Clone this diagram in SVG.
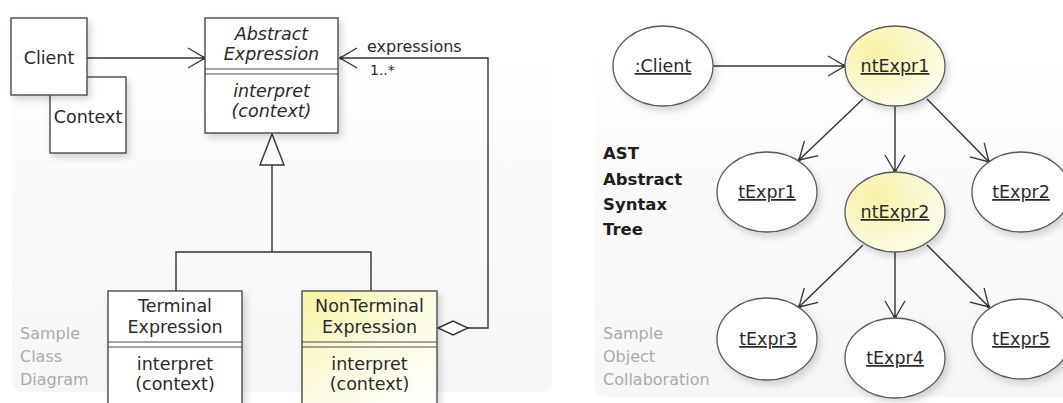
<svg xmlns="http://www.w3.org/2000/svg" width="1063" height="403" viewBox="0 0 1063 403">
<defs>
<style>
text{font-family:"DejaVu Sans","Liberation Sans",sans-serif;fill:#2a2a2a;}
.c{text-anchor:middle;font-size:17.5px;}
.it{font-style:italic;}
.u{text-decoration:underline;}
.gray{font-size:16px;fill:#ababab;}
.ast{font-size:16.5px;font-weight:bold;fill:#1e1e1e;}
.box{fill:#fff;stroke:#4a4a4a;stroke-width:1.4;}
.ybox{fill:url(#yg);stroke:#4a4a4a;stroke-width:1.4;}
.sep{stroke:#4a4a4a;stroke-width:1.2;fill:none;}
.ell{fill:#fff;stroke:#5a5a5a;stroke-width:1.3;}
.yell{fill:url(#yg2);stroke:#5a5a5a;stroke-width:1.3;}
.ln{fill:none;stroke:#333;stroke-width:1.4;}
.arr{marker-end:url(#open);}
</style>
<linearGradient id="yg" x1="0" y1="0" x2="1" y2="1">
<stop offset="0" stop-color="#f6f39c"/>
<stop offset="0.45" stop-color="#fcfbe0"/>
<stop offset="1" stop-color="#ffffff"/>
</linearGradient>
<radialGradient id="yg2" cx="0.3" cy="0.3" r="0.9">
<stop offset="0" stop-color="#f7f2a4"/>
<stop offset="0.6" stop-color="#fbf9d6"/>
<stop offset="1" stop-color="#fefef4"/>
</radialGradient>
<linearGradient id="pg" x1="0" y1="0" x2="0" y2="1">
<stop offset="0" stop-color="#ffffff" stop-opacity="0"/>
<stop offset="0.35" stop-color="#fbfbfb"/>
<stop offset="1" stop-color="#f6f6f6"/>
</linearGradient>
<filter id="sh" x="-20%" y="-20%" width="150%" height="150%">
<feDropShadow dx="3" dy="4" stdDeviation="3.5" flood-color="#000" flood-opacity="0.16"/>
</filter>
<marker id="open" markerUnits="userSpaceOnUse" markerWidth="24" markerHeight="24" viewBox="-20 -12 24 24" refX="0" refY="0" orient="auto">
<path d="M-17,-10 L0,0 L-17,10" fill="none" stroke="#333" stroke-width="1.3"/>
<circle cx="-1" cy="0" r="1.8" fill="#333"/>
</marker>
</defs>
<rect width="1063" height="403" fill="#fff"/>
<g id="panels">
<rect x="12" y="8" width="540" height="384" rx="10" fill="url(#pg)"/>
<rect x="595" y="8" width="475" height="389" rx="10" fill="url(#pg)"/>
</g>
<g id="connectors">
<line class="ln arr" x1="87" y1="58" x2="205" y2="58"/>
<polyline class="ln arr" points="468,328 488,328 488,58 340,58"/>
<polygon points="438,328 453,321 468,328 453,335" fill="#fff" stroke="#333" stroke-width="1.4"/>
<polyline class="ln" points="176,291 176,252 371,252 371,291"/>
<line class="ln" x1="272" y1="165" x2="272" y2="252"/>
<polygon points="272,134 260,165 284,165" fill="#fff" stroke="#333" stroke-width="1.4"/>
<line class="ln arr" x1="713" y1="66" x2="845" y2="66"/>
<line class="ln arr" x1="863" y1="99" x2="799" y2="160"/>
<line class="ln arr" x1="895" y1="106" x2="895" y2="172"/>
<line class="ln arr" x1="927" y1="99" x2="989" y2="162"/>
<line class="ln arr" x1="863" y1="245" x2="799" y2="307"/>
<line class="ln arr" x1="895" y1="252" x2="895" y2="318"/>
<line class="ln arr" x1="927" y1="245" x2="989" y2="307"/>
</g>
<g id="context">
<rect class="box" x="50" y="77" width="76" height="76" filter="url(#sh)"/>
<text class="c" x="88" y="123">Context</text>
</g>
<g id="client">
<rect class="box" x="11" y="18" width="76" height="77" filter="url(#sh)"/>
<text class="c" x="49" y="64">Client</text>
</g>
<g id="abstract-expression">
<rect class="box" x="205" y="18" width="133" height="115" filter="url(#sh)"/>
<line class="sep" x1="205" y1="69" x2="338" y2="69"/>
<line class="sep" x1="205" y1="74" x2="338" y2="74"/>
<text class="c it" x="271.5" y="40">Abstract</text>
<text class="c it" x="271.5" y="60">Expression</text>
<text class="c it" x="271.5" y="97">interpret</text>
<text class="c it" x="271.5" y="117">(context)</text>
</g>
<g id="labels">
<text x="367" y="52" style="font-size:16px">expressions</text>
<text x="370" y="75" style="font-size:14px">1..*</text>
</g>
<g id="terminal-expression">
<rect class="box" x="108" y="291" width="134" height="120" filter="url(#sh)"/>
<line class="sep" x1="108" y1="342" x2="242" y2="342"/>
<line class="sep" x1="108" y1="347" x2="242" y2="347"/>
<text class="c" x="175" y="312">Terminal</text>
<text class="c" x="175" y="333">Expression</text>
<text class="c" x="175" y="370">interpret</text>
<text class="c" x="175" y="390">(context)</text>
</g>
<g id="nonterminal-expression">
<rect class="ybox" x="302" y="291" width="135" height="120" filter="url(#sh)"/>
<line class="sep" x1="302" y1="342" x2="437" y2="342"/>
<line class="sep" x1="302" y1="347" x2="437" y2="347"/>
<text class="c" x="369.5" y="312">NonTerminal</text>
<text class="c" x="369.5" y="333">Expression</text>
<text class="c" x="369.5" y="370">interpret</text>
<text class="c" x="369.5" y="390">(context)</text>
</g>
<g id="class-caption">
<text class="gray" x="20" y="339">Sample</text>
<text class="gray" x="20" y="362">Class</text>
<text class="gray" x="20" y="385">Diagram</text>
</g>
<g id="obj-client">
<ellipse class="ell" cx="663" cy="66" rx="50" ry="40" filter="url(#sh)"/>
<text class="c u" x="663" y="72">:Client</text>
</g>
<g id="ntExpr1">
<ellipse class="yell" cx="895" cy="66" rx="50" ry="40" filter="url(#sh)"/>
<text class="c u" x="895" y="72">ntExpr1</text>
</g>
<g id="tExpr1">
<ellipse class="ell" cx="767" cy="192" rx="50" ry="40" filter="url(#sh)"/>
<text class="c u" x="767" y="198">tExpr1</text>
</g>
<g id="ntExpr2">
<ellipse class="yell" cx="895" cy="212" rx="50" ry="40" filter="url(#sh)"/>
<text class="c u" x="895" y="218">ntExpr2</text>
</g>
<g id="tExpr2">
<ellipse class="ell" cx="1021" cy="192" rx="49" ry="40" filter="url(#sh)"/>
<text class="c u" x="1021" y="198">tExpr2</text>
</g>
<g id="tExpr3">
<ellipse class="ell" cx="767" cy="339" rx="50" ry="41" filter="url(#sh)"/>
<text class="c u" x="768" y="345">tExpr3</text>
</g>
<g id="tExpr4">
<ellipse class="ell" cx="895" cy="358" rx="50" ry="40" filter="url(#sh)"/>
<text class="c u" x="895" y="364">tExpr4</text>
</g>
<g id="tExpr5">
<ellipse class="ell" cx="1021" cy="339" rx="49" ry="40" filter="url(#sh)"/>
<text class="c u" x="1021" y="345">tExpr5</text>
</g>
<g id="ast-caption">
<text class="ast" x="603" y="159">AST</text>
<text class="ast" x="603" y="184.5">Abstract</text>
<text class="ast" x="603" y="210">Syntax</text>
<text class="ast" x="603" y="235">Tree</text>
</g>
<g id="obj-caption">
<text class="gray" x="603" y="339">Sample</text>
<text class="gray" x="603" y="362">Object</text>
<text class="gray" x="603" y="385">Collaboration</text>
</g>
</svg>
